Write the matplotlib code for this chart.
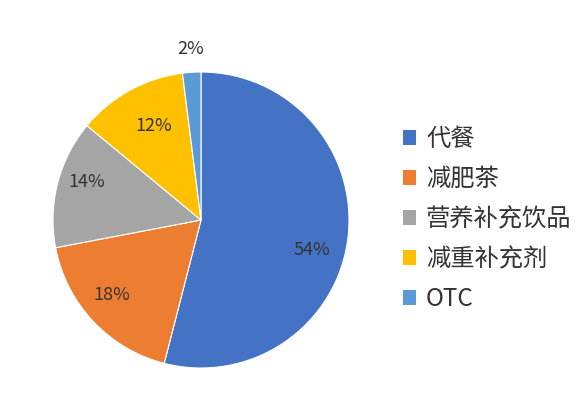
import numpy as np
import matplotlib.pyplot as plt
from matplotlib.patches import Patch

plt.rcParams['font.family'] = ['Noto Sans CJK SC', 'DejaVu Sans']

categories = ["代餐", "减肥茶", "营养补充饮品", "减重补充剂", "OTC"]
shares = [54, 18, 14, 12, 2]
colors = ["#4472C4", "#ED7D31", "#A5A5A5", "#FFC000", "#5B9BD5"]

# label placement tweaks (radius, angle shift in degrees), Excel "best fit" style
label_radius = [0.78, 0.79, 0.81, 0.71, 1.16]
label_shift = [-8, -3, -4, -2, 0]

fig = plt.figure(figsize=(5.84, 4.0), dpi=100)
ax = fig.add_axes([53 / 584, 32 / 400, 296 / 584, 296 / 400])

wedges, _ = ax.pie(
    shares,
    colors=colors,
    startangle=90,
    counterclock=False,
    radius=1.0,
    wedgeprops=dict(edgecolor="white", linewidth=0.8),
)
ax.set_xlim(-1, 1)
ax.set_ylim(-1, 1)
ax.set_aspect("equal")

for w, val, r, shift in zip(wedges, shares, label_radius, label_shift):
    ang = np.deg2rad((w.theta1 + w.theta2) / 2 + shift)
    ax.text(r * np.cos(ang), r * np.sin(ang), f"{val}%",
            ha="center", va="center", fontsize=13, color="#333333",
            clip_on=False)

handles = [Patch(facecolor=c, edgecolor="none") for c in colors]
fig.legend(
    handles, categories,
    loc="upper left",
    bbox_to_anchor=(381 / 584, 1 - 104 / 400),
    frameon=False,
    fontsize=17.5,
    handlelength=0.55,
    handleheight=0.55,
    handletextpad=0.4,
    labelspacing=0.58,
    labelcolor="#333333",
)

fig.savefig("out.png", dpi=100)
